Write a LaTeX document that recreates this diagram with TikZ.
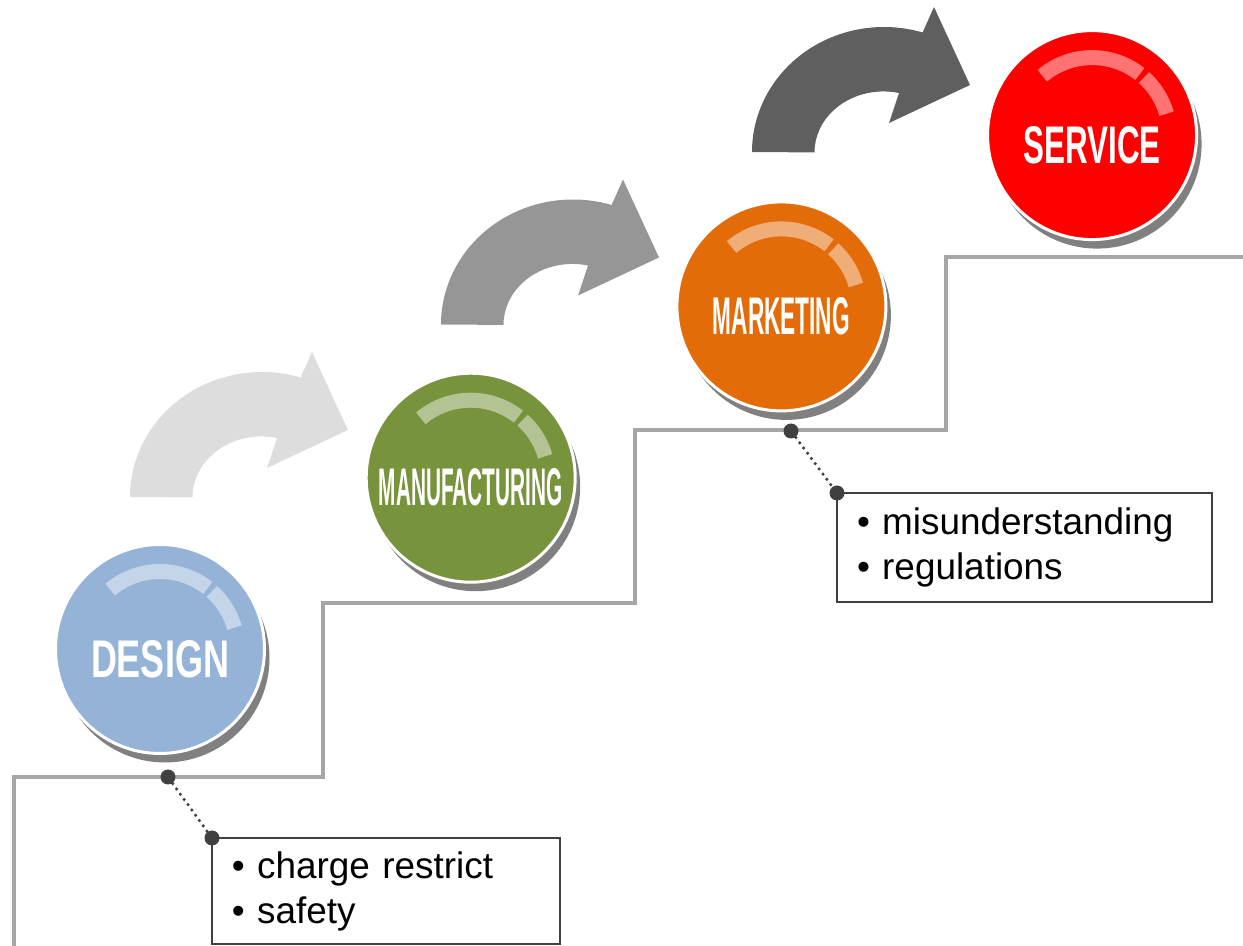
\documentclass[tikz,border=0pt]{standalone}
\usepackage{fontspec}
\setmainfont{Liberation Sans}
\usepackage{graphicx}
\usepackage{tikz}
\usetikzlibrary{shadows}
\usetikzlibrary{positioning}

\definecolor{designblue}{HTML}{95B3D7}
\definecolor{manufgreen}{HTML}{77933C}
\definecolor{marketorange}{HTML}{E36C09}
\definecolor{servicered}{HTML}{FF0000}
\definecolor{arrowlight}{HTML}{DDDDDD}
\definecolor{arrowmid}{HTML}{969696}
\definecolor{arrowdark}{HTML}{5F5F5F}
\definecolor{stairgray}{HTML}{A6A6A6}
\definecolor{dotgray}{HTML}{404040}

\begin{document}
\begin{tikzpicture}[
   stepball/.style = {circle, draw=white, line width=0.03cm, minimum size=2.09cm,
                      inner sep=0pt, outer sep=0pt,
                      drop shadow={shadow xshift=0.05cm, shadow yshift=-0.09cm,
                                   fill=black!50, opacity=1}},
      gloss/.style = {white, opacity=0.45, line width=0.15cm},
      stair/.style = {draw=stairgray, line width=0.035cm},
        dot/.style = {circle, fill=dotgray, minimum size=0.15cm, inner sep=0pt},
     leader/.style = {dotgray, line width=0.035cm, line cap=round,
                      dash pattern=on 0pt off 0.065cm},
       note/.style = {draw=dotgray, line width=0.02cm, anchor=north west,
                      outer sep=0pt, align=left, inner xsep=0.2cm,
                      font=\fontsize{10.5}{12.8}\selectfont}
                   ]
\useasboundingbox (0,0) rectangle (12.43,9.46);

% staircase
\draw[stair] (0.14,0) -- (0.14,1.69) -- (3.23,1.69) -- (3.23,3.43)
  -- (6.35,3.43) -- (6.35,5.16) -- (9.46,5.16) -- (9.46,6.89) -- (12.43,6.89);

% curved arrows between the steps
\foreach \col [count=\i from 0] in {arrowlight, arrowmid, arrowdark}
  \fill[\col, shift={(1.30+3.11*\i, 4.49+1.725*\i)}]
    (0,0) arc[start angle=180, end angle=73, x radius=1.32, y radius=1.25]
    -- (1.82,1.45) -- (2.18,0.67) -- (1.37,0.29) -- (1.47,0.59)
    arc[start angle=77, end angle=180, x radius=0.69, y radius=0.61] -- cycle;

% balls
\foreach \name/\col/\w/\txt [count=\i from 0] in
  {design/designblue/1.38/DESIGN, manuf/manufgreen/1.84/MANUFACTURING,
   market/marketorange/1.37/MARKETING, service/servicered/1.37/SERVICE}
{
  \node[stepball, fill=\col,
        label={[text=white, yshift=-0.1cm]center:\resizebox{\w cm}{0.37cm}{\bfseries\txt}}]
        (\name) at (1.60+3.107*\i, 2.97+1.713*\i) {};
  \draw[gloss] ([shift={(130:0.775)}]\name.center) arc[start angle=130, end angle=52, radius=0.775];
  \draw[gloss] ([shift={(48:0.775)}]\name.center) arc[start angle=48, end angle=16, radius=0.775];
}

% notes
\node[note, text width=3.08cm, minimum height=1.06cm] (noteA) at (2.12,1.08)
  {\textbullet\ charge restrict\\ \textbullet\ safety};
\node[note, text width=3.35cm, minimum height=1.09cm] (noteB) at (8.37,4.53)
  {\textbullet\ misunderstanding\\ \textbullet\ regulations};

\node[dot] (dotA) at (1.68,1.69) {};
\node[dot] (dotB) at (noteA.north west) {};
\node[dot] (dotC) at (7.91,5.15) {};
\node[dot] (dotD) at (noteB.north west) {};
\draw[leader] (dotA) -- (dotB);
\draw[leader] (dotC) -- (dotD);
\end{tikzpicture}
\end{document}
